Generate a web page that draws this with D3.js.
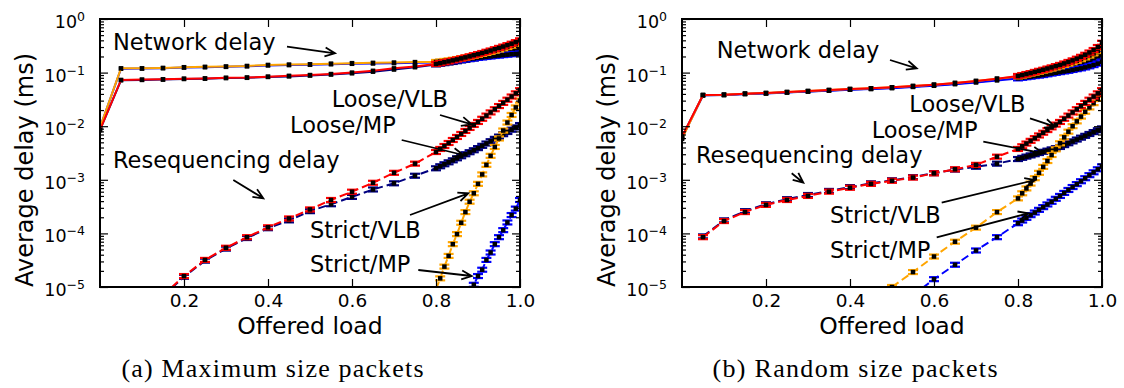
<!DOCTYPE html>
<html>
<head>
<meta charset="utf-8">
<script src="https://cdn.jsdelivr.net/npm/d3@7"></script>
<style>
  body { margin: 0; background: #fff; }
  svg text { font-family: "DejaVu Sans", sans-serif; fill: #000; }
</style>
</head>
<body>
<svg id="chart" width="1124" height="388"></svg>
<script>
// offered load grid: every 0.05 up to 0.75, then every 0.01 from 0.8
const loadSparse = [0, 0.05, 0.1, 0.15, 0.2, 0.25, 0.3, 0.35, 0.4, 0.45, 0.5, 0.55, 0.6, 0.65, 0.7, 0.75];
const loadDense = [0.8, 0.81, 0.82, 0.83, 0.84, 0.85, 0.86, 0.87, 0.88, 0.89, 0.9,
  0.91, 0.92, 0.93, 0.94, 0.95, 0.96, 0.97, 0.98, 0.99, 1.0];
const loadNet = loadSparse.concat(loadDense);

const xTicks = [0.2, 0.4, 0.6, 0.8, 1.0];
const yMajor = [1e-5, 1e-4, 1e-3, 1e-2, 1e-1, 1];
const yExponents = ["−5", "−4", "−3", "−2", "−1", "0"];

const schemes = ["Loose/MP", "Strict/MP", "Strict/VLB", "Loose/VLB"]; // draw order
const colors = { "Loose/VLB": "#ff0000", "Loose/MP": "#000080", "Strict/VLB": "#ffa500", "Strict/MP": "#0000ff" };

// ---- (a) maximum size packets: network delay (ms), x = loadNet
const netA_looseVLB = [0.0085, 0.073, 0.074, 0.075, 0.077, 0.078, 0.08, 0.081, 0.084, 0.087, 0.09, 0.094, 0.1, 0.108, 0.12, 0.13,
  0.145, 0.15, 0.156, 0.162, 0.169, 0.176, 0.184, 0.192, 0.201, 0.211, 0.221, 0.232, 0.245, 0.258, 0.273, 0.289, 0.306, 0.325, 0.346, 0.37, 0.4];
const netA_looseMP = [0.0085, 0.072, 0.073, 0.074, 0.076, 0.077, 0.079, 0.08, 0.083, 0.085, 0.088, 0.092, 0.097, 0.104, 0.114, 0.126,
  0.142, 0.146, 0.15, 0.154, 0.158, 0.163, 0.168, 0.173, 0.178, 0.183, 0.189, 0.195, 0.201, 0.208, 0.215, 0.223, 0.231, 0.24, 0.25, 0.262, 0.275];
const netA_strictVLB = [0.0095, 0.12, 0.12, 0.122, 0.126, 0.128, 0.13, 0.133, 0.139, 0.141, 0.143, 0.147, 0.15, 0.152, 0.154, 0.157,
  0.158, 0.161, 0.165, 0.169, 0.174, 0.179, 0.185, 0.191, 0.198, 0.206, 0.214, 0.223, 0.233, 0.244, 0.256, 0.269, 0.284, 0.3, 0.318, 0.338, 0.36];
const netA_strictMP = [0.0095, 0.118, 0.119, 0.121, 0.124, 0.126, 0.128, 0.131, 0.136, 0.138, 0.14, 0.143, 0.146, 0.148, 0.15, 0.152,
  0.155, 0.158, 0.161, 0.164, 0.167, 0.17, 0.173, 0.177, 0.18, 0.184, 0.188, 0.192, 0.196, 0.2, 0.204, 0.208, 0.212, 0.216, 0.22, 0.223, 0.226];

// ---- (a) resequencing delay (ms)
const resA_looseLoad = loadSparse.slice(3).concat(loadDense);
const resA_looseVLB = [7e-6, 1.6e-5, 3.2e-5, 5.4e-5, 8.5e-5, 1.3e-4, 1.9e-4, 2.8e-4, 4.2e-4, 6.0e-4, 8.8e-4, 1.35e-3, 2.0e-3,
  0.0033, 0.00376, 0.00427, 0.00486, 0.00553, 0.0063, 0.00717, 0.00816, 0.00928, 0.01056, 0.012,
  0.01376, 0.01577, 0.01808, 0.02072, 0.02375, 0.02723, 0.03121, 0.03578, 0.041, 0.047];
const resA_looseMP = [6.8e-6, 1.55e-5, 3.1e-5, 5.2e-5, 8.2e-5, 1.25e-4, 1.75e-4, 2.6e-4, 3.5e-4, 4.8e-4, 6.6e-4, 8.6e-4, 1.19e-3,
  0.00164, 0.00179, 0.00195, 0.00212, 0.00231, 0.00252, 0.00275, 0.003, 0.00327, 0.00356, 0.0039,
  0.0043, 0.00475, 0.00525, 0.0058, 0.0064, 0.0071, 0.0078, 0.0086, 0.0095, 0.0105];
const resA_strictVLBLoad = loadDense;
const resA_strictVLB = [9e-6, 1.45e-5, 2.4e-5, 3.8e-5, 6.3e-5, 9.7e-5, 1.58e-4, 2.5e-4, 3.9e-4, 5.6e-4, 8.4e-4,
  1.26e-3, 1.9e-3, 2.8e-3, 4.1e-3, 5.9e-3, 8.3e-3, 0.0117, 0.0162, 0.0224, 0.030];
const resA_strictMPLoad = loadDense.slice(8);
const resA_strictMP = [8e-6, 1.1e-5, 1.6e-5, 2.1e-5, 3.2e-5, 4.4e-5, 6.3e-5, 8.5e-5, 1.15e-4, 1.6e-4, 2.2e-4, 2.9e-4, 4.2e-4];

// ---- (b) random size packets: network delay (ms), x = loadNet
const netB_looseVLB = [0.0064, 0.0382, 0.0387, 0.0404, 0.0416, 0.0434, 0.0453, 0.0473, 0.0494, 0.0509, 0.0532, 0.0562, 0.0595, 0.064, 0.0697, 0.0769,
  0.0865, 0.09, 0.094, 0.098, 0.103, 0.108, 0.113, 0.119, 0.125, 0.132, 0.139, 0.148, 0.158, 0.169, 0.182, 0.197, 0.215, 0.237, 0.264, 0.3, 0.36];
const netB_looseMP = [0.0062, 0.0378, 0.0383, 0.04, 0.0411, 0.0428, 0.0446, 0.0465, 0.0485, 0.0499, 0.052, 0.0548, 0.0578, 0.062, 0.067, 0.0735,
  0.082, 0.085, 0.088, 0.091, 0.094, 0.098, 0.102, 0.106, 0.11, 0.114, 0.119, 0.124, 0.13, 0.136, 0.143, 0.151, 0.16, 0.171, 0.184, 0.2, 0.22];
const netB_strictVLB = [0.0058, 0.0382, 0.0387, 0.0404, 0.0416, 0.0434, 0.0453, 0.0473, 0.0494, 0.0509, 0.0532, 0.0562, 0.0595, 0.064, 0.0697, 0.0769,
  0.085, 0.088, 0.092, 0.096, 0.1, 0.104, 0.109, 0.114, 0.119, 0.125, 0.131, 0.139, 0.147, 0.156, 0.166, 0.178, 0.192, 0.208, 0.228, 0.253, 0.29];
const netB_strictMP = [0.006, 0.0376, 0.038, 0.0397, 0.0408, 0.0424, 0.0442, 0.046, 0.048, 0.0493, 0.0513, 0.054, 0.0568, 0.0608, 0.0655, 0.0715,
  0.078, 0.08, 0.082, 0.084, 0.086, 0.088, 0.09, 0.093, 0.096, 0.099, 0.102, 0.105, 0.108, 0.112, 0.116, 0.12, 0.125, 0.131, 0.138, 0.147, 0.16];

// ---- (b) resequencing delay (ms)
const resB_looseLoad = loadSparse.slice(1).concat(loadDense);
const resB_looseVLB = [8.5e-5, 1.7e-4, 2.5e-4, 3.4e-4, 4.2e-4, 5.0e-4, 6.0e-4, 7.1e-4, 8.4e-4, 9.6e-4, 1.1e-3, 1.32e-3, 1.57e-3, 1.9e-3, 2.7e-3,
  0.00376, 0.00422, 0.00474, 0.00533, 0.00598, 0.00672, 0.00755, 0.00847, 0.00952, 0.0107, 0.012,
  0.01376, 0.01577, 0.01808, 0.02072, 0.02375, 0.02723, 0.03121, 0.03578, 0.041, 0.047];
const resB_looseMP = [8.8e-5, 1.75e-4, 2.6e-4, 3.5e-4, 4.35e-4, 5.2e-4, 6.2e-4, 7.3e-4, 8.6e-4, 9.8e-4, 1.12e-3, 1.33e-3, 1.55e-3, 1.75e-3, 2.0e-3,
  0.00244, 0.00257, 0.00271, 0.00285, 0.003, 0.00316, 0.00333, 0.0035, 0.00369, 0.00389, 0.0041,
  0.00444, 0.00481, 0.00521, 0.00564, 0.00611, 0.00661, 0.00716, 0.00776, 0.0084, 0.0091];
const resB_strictVLBLoad = loadSparse.slice(10).concat(loadDense);
const resB_strictVLB = [1.0e-5, 1.9e-5, 3.7e-5, 7e-5, 1.28e-4, 2.5e-4,
  4.5e-4, 5.6e-4, 6.9e-4, 8.5e-4, 1.07e-3, 1.35e-3, 1.74e-3, 2.24e-3, 2.9e-3, 3.7e-3, 4.8e-3,
  6.2e-3, 7.9e-3, 0.01, 0.0123, 0.0151, 0.0186, 0.0224, 0.0269, 0.0324, 0.039];
const resB_strictMPLoad = loadSparse.slice(11).concat(loadDense);
const resB_strictMP = [7e-6, 1.4e-5, 2.6e-5, 4.8e-5, 8.5e-5,
  1.55e-4, 1.74e-4, 1.95e-4, 2.19e-4, 2.45e-4, 2.75e-4, 3.09e-4, 3.47e-4, 3.89e-4, 4.42e-4, 5.0e-4,
  5.69e-4, 6.46e-4, 7.33e-4, 8.3e-4, 9.4e-4, 1.07e-3, 1.22e-3, 1.38e-3, 1.57e-3, 1.78e-3];

// annotations: text position and arrow (px, relative to plot frame left edge)
const notesA = [
  { text: "Network delay", tx: 13, ty: 50, arrow: [187, 46.7, 235, 53.3] },
  { text: "Loose/VLB", tx: 231.7, ty: 106.7, arrow: [340, 115, 371.7, 124.3] },
  { text: "Loose/MP", tx: 190, ty: 133.3, arrow: [301.7, 140, 363.3, 155] },
  { text: "Resequencing delay", tx: 13, ty: 168.3, arrow: [133.3, 180, 163.3, 198.3] },
  { text: "Strict/VLB", tx: 210, ty: 238.3, arrow: [310, 215, 368.3, 193.3] },
  { text: "Strict/MP", tx: 210, ty: 271.7, arrow: [318.3, 270, 371.7, 276] },
];
const notesB = [
  { text: "Network delay", tx: 34.7, ty: 58.3, arrow: [208, 60, 234.7, 68.3] },
  { text: "Loose/VLB", tx: 227.3, ty: 111.7, arrow: [348, 118.3, 373, 126.7] },
  { text: "Loose/MP", tx: 189.7, ty: 138.3, arrow: [301.3, 141.7, 361.3, 153.3] },
  { text: "Resequencing delay", tx: 14, ty: 163.3, arrow: [109.7, 173.3, 121.3, 182.7] },
  { text: "Strict/VLB", tx: 148, ty: 223.3, arrow: [259.7, 202.7, 353, 180] },
  { text: "Strict/MP", tx: 148, ty: 258.3, arrow: [254.7, 237.3, 346.3, 213.3] },
];

const panels = [
  {
    id: "a", left: 100, caption: "(a) Maximum size packets", capX: 272.5, capW: 302,
    net: { "Loose/VLB": netA_looseVLB, "Loose/MP": netA_looseMP, "Strict/VLB": netA_strictVLB, "Strict/MP": netA_strictMP },
    res: {
      "Loose/VLB": [resA_looseLoad, resA_looseVLB], "Loose/MP": [resA_looseLoad, resA_looseMP],
      "Strict/VLB": [resA_strictVLBLoad, resA_strictVLB], "Strict/MP": [resA_strictMPLoad, resA_strictMP],
    },
    notes: notesA,
  },
  {
    id: "b", left: 682, caption: "(b) Random size packets", capX: 855, capW: 285,
    net: { "Loose/VLB": netB_looseVLB, "Loose/MP": netB_looseMP, "Strict/VLB": netB_strictVLB, "Strict/MP": netB_strictMP },
    res: {
      "Loose/VLB": [resB_looseLoad, resB_looseVLB], "Loose/MP": [resB_looseLoad, resB_looseMP],
      "Strict/VLB": [resB_strictVLBLoad, resB_strictVLB], "Strict/MP": [resB_strictMPLoad, resB_strictMP],
    },
    notes: notesB,
  },
];

////////////////////////////////////////////////////////////////////////////////////

const PLOT_W = 420;
const TOP = 19;
const BOTTOM = 287;

const svg = d3.select("#chart");
svg.append("rect").attr("width", 1124).attr("height", 388).attr("fill", "#fff");
const defs = svg.append("defs");

panels.forEach(drawPanel);

function drawPanel(p) {
  const x = d3.scaleLinear().domain([0, 1]).range([p.left, p.left + PLOT_W]);
  const y = d3.scaleLog().domain([1e-5, 1]).range([BOTTOM, TOP]);
  const g = svg.append("g").attr("class", "panel-" + p.id);

  defs.append("clipPath").attr("id", "clip-" + p.id)
    .append("rect").attr("x", p.left).attr("y", TOP).attr("width", PLOT_W).attr("height", BOTTOM - TOP);

  const plot = g.append("g").attr("clip-path", `url(#clip-${p.id})`);
  const line = d3.line().x((d) => x(d[0])).y((d) => y(d[1]));

  function drawSeries(pts, color, dashed, capsFrom) {
    plot.append("path")
      .datum(pts)
      .attr("d", line)
      .attr("fill", "none")
      .attr("stroke", color)
      .attr("stroke-width", 2)
      .attr("stroke-dasharray", dashed ? "8,4" : null);

    // error bar caps
    const capped = pts.filter((d) => d[0] >= capsFrom - 1e-9);
    const caps = plot.append("g").selectAll("g").data(capped).enter().append("g")
      .attr("transform", (d) => `translate(${x(d[0])},${y(d[1])})`);
    [-2, 2].forEach((dy) => {
      caps.append("line").attr("x1", -5).attr("x2", 5).attr("y1", dy).attr("y2", dy)
        .attr("stroke", color).attr("stroke-width", 2.2);
    });

    plot.append("g").selectAll("rect").data(pts).enter().append("rect")
      .attr("x", (d) => x(d[0]) - 2.25)
      .attr("y", (d) => y(d[1]) - 2.25)
      .attr("width", 4.5)
      .attr("height", 4.5)
      .attr("fill", "#000");
  }

  schemes.forEach((s) => drawSeries(d3.zip(loadNet, p.net[s]), colors[s], false, 0.8));
  schemes.forEach((s) => drawSeries(d3.zip(p.res[s][0], p.res[s][1]), colors[s], true, 0));

  // axes, ticks pointing inwards
  const yMinor = y.ticks().filter((v) => !yMajor.some((m) => Math.abs(m - v) / m < 1e-6));
  const axes = g.append("g").attr("class", "axes");

  axes.append("g").attr("transform", `translate(0,${BOTTOM})`)
    .call(d3.axisBottom(x).tickValues(xTicks).tickSize(-8).tickPadding(7));
  axes.append("g").attr("transform", `translate(0,${TOP})`)
    .call(d3.axisTop(x).tickValues(xTicks).tickSize(-8).tickFormat(""));
  axes.append("g").attr("transform", `translate(${p.left},0)`)
    .call(d3.axisLeft(y).tickValues(yMajor).tickSize(-8).tickFormat(""));
  axes.append("g").attr("transform", `translate(${p.left},0)`)
    .call(d3.axisLeft(y).tickValues(yMinor).tickSize(-4).tickFormat(""));
  axes.append("g").attr("transform", `translate(${p.left + PLOT_W},0)`)
    .call(d3.axisRight(y).tickValues(yMajor).tickSize(-8).tickFormat(""));
  axes.append("g").attr("transform", `translate(${p.left + PLOT_W},0)`)
    .call(d3.axisRight(y).tickValues(yMinor).tickSize(-4).tickFormat(""));

  axes.selectAll(".domain").remove();
  axes.selectAll(".tick line").attr("stroke", "#000").attr("stroke-width", 1.2);
  axes.selectAll(".tick text").style("font-size", "18.5px").style("font-family", '"DejaVu Sans", sans-serif');

  // y tick labels 10^k
  const yLab = g.append("g").selectAll("text").data(yMajor).enter().append("text")
    .attr("x", p.left - 15)
    .attr("y", (d) => y(d) + 9)
    .attr("text-anchor", "end");
  yLab.append("tspan").style("font-size", "17.5px").text("10");
  yLab.append("tspan").attr("dy", -7).style("font-size", "12.5px").text((d, i) => yExponents[i]);

  g.append("rect")
    .attr("x", p.left).attr("y", TOP).attr("width", PLOT_W).attr("height", BOTTOM - TOP)
    .attr("fill", "none").attr("stroke", "#000").attr("stroke-width", 2);

  // axis labels
  g.append("text")
    .attr("x", p.left + PLOT_W / 2).attr("y", 333.5)
    .attr("text-anchor", "middle").style("font-size", "23.5px")
    .text("Offered load");
  g.append("text")
    .attr("transform", `translate(${p.left - 67},${(TOP + BOTTOM) / 2 + 17}) rotate(-90)`)
    .attr("text-anchor", "middle").style("font-size", "24px")
    .text("Average delay (ms)");

  // annotations
  p.notes.forEach((n) => {
    g.append("text").attr("x", p.left + n.tx).attr("y", n.ty).style("font-size", "22.5px").text(n.text);
    const [x1, y1, x2, y2] = n.arrow;
    drawArrow(g, p.left + x1, y1, p.left + x2, y2);
  });

  // caption
  g.append("text")
    .attr("x", p.capX).attr("y", 377)
    .attr("text-anchor", "middle")
    .attr("textLength", p.capW).attr("lengthAdjust", "spacing")
    .style("font-family", '"Liberation Serif", serif').style("font-size", "26px")
    .text(p.caption);
}

function drawArrow(g, x1, y1, x2, y2) {
  const a = Math.atan2(y2 - y1, x2 - x1);
  const L = 11, s = 0.42;
  const h1 = [x2 - L * Math.cos(a - s), y2 - L * Math.sin(a - s)];
  const h2 = [x2 - L * Math.cos(a + s), y2 - L * Math.sin(a + s)];
  g.append("path")
    .attr("d", `M${x1},${y1}L${x2},${y2}M${h1[0]},${h1[1]}L${x2},${y2}L${h2[0]},${h2[1]}`)
    .attr("fill", "none").attr("stroke", "#000").attr("stroke-width", 1.8);
}
</script>
</body>
</html>
